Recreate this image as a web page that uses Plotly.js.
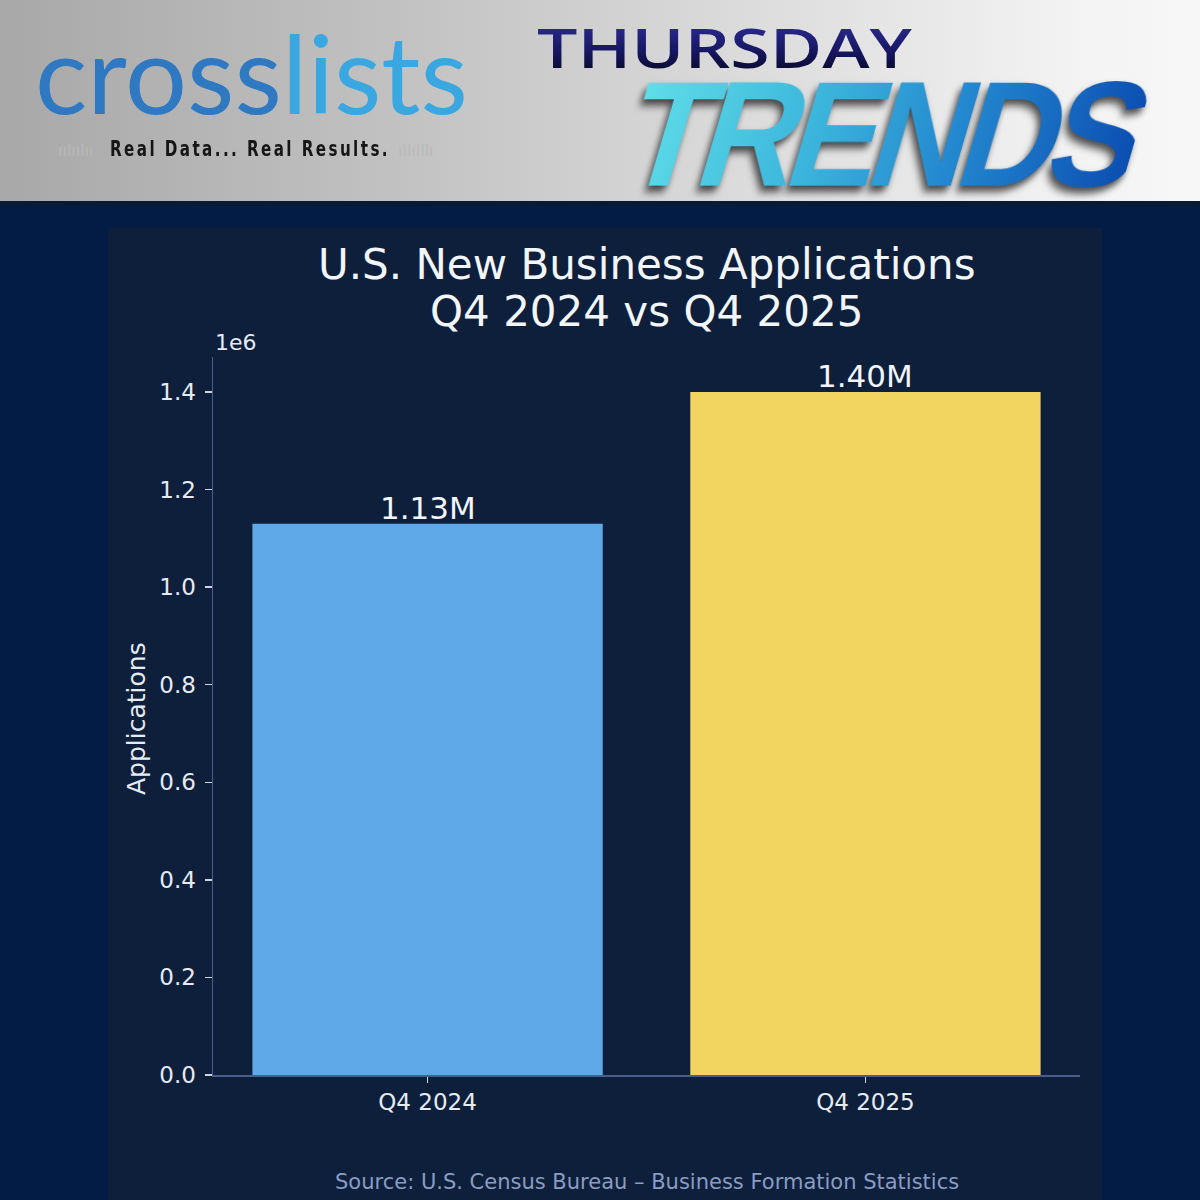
<!DOCTYPE html>
<html>
<head>
<meta charset="utf-8">
<script src="https://cdn.plot.ly/plotly-3.0.1.min.js"></script>
<style>
  html, body { margin:0; padding:0; width:1200px; height:1200px; background:#031c46; overflow:hidden; }
  #header { position:absolute; left:0; top:0; width:1200px; height:201px;
    background: linear-gradient(90deg, #a8a8a8 0%, #c3c3c3 35%, #dedede 65%, #f3f3f3 90%, #f7f7f7 100%); z-index:3; }
  #band { position:absolute; left:0; top:201px; width:1200px; height:5px; background:#0b1a33; z-index:3; }
  #panel { position:absolute; left:108px; top:228px; width:994px; height:972px; background:#0d1f3b; z-index:0; }
  #chart { position:absolute; left:0; top:0; width:1200px; height:1200px; z-index:1; }
  .h { position:absolute; white-space:nowrap; line-height:1; transform-origin:0 0; }
  #logo { left:35px; top:18px; font-family:Lato, sans-serif; font-weight:400; font-size:108px; }
  #logo .a { color:#2f78c2; } #logo .b { color:#3ba7e0; }
  #tag { left:110px; top:139px; font-family:"DejaVu Sans Condensed","Liberation Sans Narrow",sans-serif; font-weight:700; font-size:21px; color:#161616; letter-spacing:3px; }
  #dec1 { left:58px; top:143px; font-family:"DejaVu Sans"; font-size:16px; color:#b9b9b9; }
  #dec2 { left:398px; top:143px; font-family:"DejaVu Sans"; font-size:16px; color:#b9b9b9; }
  #thu { left:537px; top:19px; font-family:"Open Sans", sans-serif; font-weight:600; font-size:55px;
    background: linear-gradient(180deg, #2e2e9a 0%, #181866 55%, #08082a 100%);
    -webkit-background-clip:text; background-clip:text; color:transparent; -webkit-text-fill-color:transparent; }
  #trends { left:654px; top:59px; font-family:"Liberation Sans", Arial, sans-serif; font-weight:700; font-size:150px; letter-spacing:-10px;
    background: linear-gradient(90deg, #5fdde8 0%, #3cb6dc 35%, #2387cf 65%, #0c4fb2 100%);
    -webkit-background-clip:text; background-clip:text; color:transparent; -webkit-text-fill-color:transparent;
    filter: drop-shadow(-2px 6px 4px rgba(0,0,0,0.7)); }
</style>
</head>
<body>
<div id="panel"></div>
<div id="chart"></div>
<div id="header">
  <div class="h" id="logo"><span class="a">cross</span><span class="b">lists</span></div>
  <div class="h" id="dec1">ıılıılıı</div>
  <div class="h" id="tag">Real Data... Real Results.</div>
  <div class="h" id="dec2">ıllılllı</div>
  <div class="h" id="thu">THURSDAY</div>
  <div class="h" id="trends">TRENDS</div>
</div>
<div id="band"></div>
<script>
// ---- data ----
const categories = ['Q4 2024', 'Q4 2025'];
const applications = [1130000, 1400000];
const barLabels = ['1.13M', '1.40M'];
const barColors = ['#5fa9e9', '#f2d461'];
const yTickValues = [0, 200000, 400000, 600000, 800000, 1000000, 1200000, 1400000];
const yTickLabels = ['0.0', '0.2', '0.4', '0.6', '0.8', '1.0', '1.2', '1.4'];
const titleLines = ['U.S. New Business Applications', 'Q4 2024 vs Q4 2025'];
const yTitle = 'Applications';
const offsetText = '1e6';
const sourceText = 'Source: U.S. Census Bureau \u2013 Business Formation Statistics';

// ---- header text fitting ----
function fit(id, targetW, skew) {
  const el = document.getElementById(id);
  const w = el.getBoundingClientRect().width;
  const s = targetW / w;
  el.style.transform = 'scaleX(' + s + ')' + (skew ? ' skewX(' + skew + 'deg)' : '');
}
fit('logo', 433);
fit('tag', 280);
fit('thu', 375);
fit('trends', 505, -18);

const font = 'DejaVu Sans, sans-serif';
const txt = '#e6ebf2';
const H = 1200, plotTop = 357, plotBottom = 1075, plotH = plotBottom - plotTop, plotLeft = 213, plotW = 867;
const py = (pix) => (plotBottom - pix) / plotH;

const trace = {
  type: 'bar',
  x: categories,
  y: applications,
  width: 0.8,
  marker: { color: barColors, line: { width: 0 } },
  hoverinfo: 'none'
};

const annotations = [
  { text: offsetText, xref: 'paper', yref: 'paper', x: 0, y: 1, xanchor: 'left', yanchor: 'bottom',
    yshift: 0, showarrow: false, font: { family: font, size: 22, color: txt } },
  { text: yTitle, xref: 'paper', yref: 'paper', x: (136 - plotLeft) / plotW, y: py(719), xanchor: 'center', yanchor: 'middle',
    textangle: -90, showarrow: false, font: { family: font, size: 25, color: txt } },
  { text: sourceText, xref: 'paper', yref: 'paper', x: 0.5, y: py(1182), xanchor: 'center', yanchor: 'middle',
    showarrow: false, font: { family: font, size: 21, color: '#8a9cc2' } },
  { text: titleLines[0], xref: 'paper', yref: 'paper', x: 0.5, y: py(265), xanchor: 'center', yanchor: 'middle',
    showarrow: false, font: { family: font, size: 42, color: '#f2f5fa' } },
  { text: titleLines[1], xref: 'paper', yref: 'paper', x: 0.5, y: py(311), xanchor: 'center', yanchor: 'middle',
    showarrow: false, font: { family: font, size: 42, color: '#f2f5fa' } }
];
categories.forEach((c, i) => {
  annotations.push({ text: barLabels[i], x: c, y: applications[i], xref: 'x', yref: 'y',
    xanchor: 'center', yanchor: 'bottom', yshift: -4, showarrow: false,
    font: { family: font, size: 31, color: '#f2f5fa' } });
});

const layout = {
  width: 1200, height: 1200,
  margin: { l: plotLeft, r: 1200 - plotLeft - plotW, t: plotTop, b: H - plotBottom },
  paper_bgcolor: 'rgba(0,0,0,0)',
  plot_bgcolor: 'rgba(0,0,0,0)',
  showlegend: false,
  font: { family: font, color: txt },
  xaxis: {
    type: 'category', range: [-0.49, 1.49],
    showline: true, linecolor: '#4b5d8c', linewidth: 1.5, mirror: false,
    ticks: 'outside', ticklen: 6, tickwidth: 1.5, tickcolor: '#cdd4e2',
    tickfont: { family: font, size: 23, color: txt },
    showgrid: false, zeroline: false
  },
  yaxis: {
    range: [0, 1471600],
    tickvals: yTickValues, ticktext: yTickLabels,
    showline: true, linecolor: '#4b5d8c', linewidth: 1.5, mirror: false,
    ticks: 'outside', ticklen: 7, tickwidth: 1.5, tickcolor: '#cdd4e2',
    ticklabelstandoff: 4,
    tickfont: { family: font, size: 23, color: txt },
    showgrid: false, zeroline: false
  },
  annotations: annotations
};

Plotly.newPlot('chart', [trace], layout, { displayModeBar: false, staticPlot: true });
</script>
</body>
</html>
